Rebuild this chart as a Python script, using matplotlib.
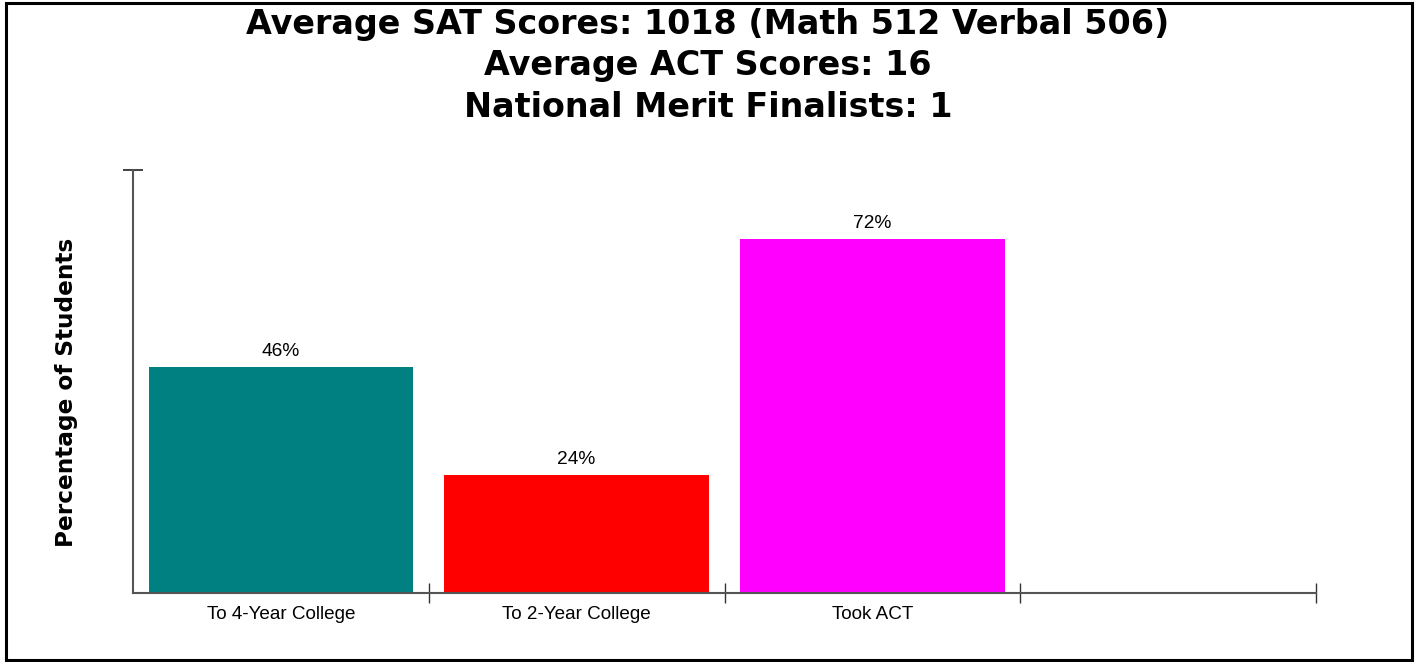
import matplotlib
matplotlib.use("Agg")
import matplotlib.pyplot as plt
from matplotlib.patches import Rectangle

plt.rcParams['font.family'] = ['Liberation Sans', 'DejaVu Sans']

categories = ["To 4-Year College", "To 2-Year College", "Took ACT", ""]
values = [46, 24, 72, None]
colors = ["#008080", "#FF0000", "#FF00FF"]
title_lines = ["Average SAT Scores: 1018 (Math 512 Verbal 506)",
               "Average ACT Scores: 16",
               "National Merit Finalists: 1"]
y_label = "Percentage of Students"
y_max = 86

W, H = 1420, 662
fig = plt.figure(figsize=(W / 100, H / 100), dpi=100)
ax = fig.add_axes([133/W, 1 - 593/H, (1316-133)/W, (593-170)/H])

xs = list(range(len(categories)))
for i, v in enumerate(values):
    if v is None:
        continue
    ax.bar(xs[i], v, width=0.895, color=colors[i], edgecolor='none')
    ax.text(xs[i], v + 1.4, f"{v}%", ha='center', va='bottom', fontsize=13.8)

ax.set_xlim(-0.5, len(categories) - 0.5)
ax.set_ylim(0, y_max)

ax.set_xticks([x + 0.5 for x in xs])
ax.set_xticklabels([])
ax.set_xticks(xs, minor=True)
ax.set_xticklabels(categories, minor=True, fontsize=13.6)
ax.tick_params(axis='x', which='major', direction='inout', length=14, width=1.0, color='#333333')
ax.tick_params(axis='x', which='minor', length=0, pad=9.5)

ax.set_yticks([y_max])
ax.set_yticklabels([])
ax.tick_params(axis='y', direction='inout', length=14, width=1.3, color='#333333')

for s in ['top', 'right']:
    ax.spines[s].set_visible(False)
for s in ['left', 'bottom']:
    ax.spines[s].set_color('#555555')
    ax.spines[s].set_linewidth(1.5)

bold_family = ['DejaVu Sans']
fig.text(67/W, 1 - 392/H, y_label, rotation=90, ha='center', va='center',
         fontsize=16.7, fontweight='bold', family=bold_family)

for line, base in zip(title_lines, [34, 75.5, 117]):
    fig.text(708/W, 1 - base/H, line, ha='center', va='baseline',
             fontsize=24, fontweight='bold', family=bold_family)

fig.patches.append(Rectangle((5.5/W, 2/H), (1412-5.5)/W, (659-2)/H,
                             transform=fig.transFigure, fill=False,
                             edgecolor='black', linewidth=2.2))

fig.savefig("out.png", dpi=100)
